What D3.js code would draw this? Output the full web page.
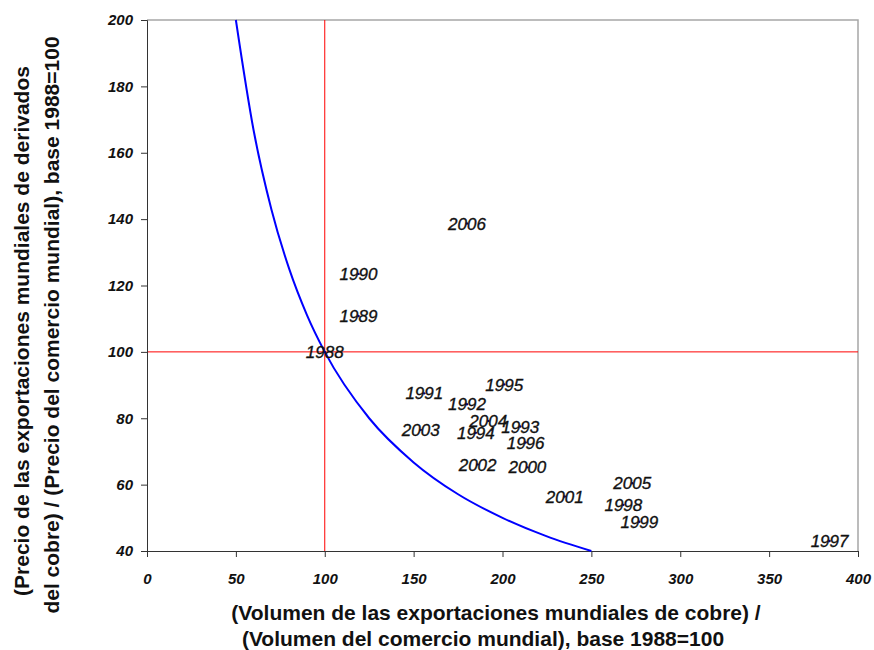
<!DOCTYPE html>
<html>
<head>
<meta charset="utf-8">
<script src="https://cdn.jsdelivr.net/npm/d3@7"></script>
<style>
  body { margin: 0; background: #fff; }
  svg { display: block; font-family: "Liberation Sans", Arial, sans-serif; }
</style>
</head>
<body>
<svg width="874" height="650"></svg>
<script>
// -- data -- //
const years = ["1988","1989","1990","1991","1992","1993","1994","1995","1996","1997",
               "1998","1999","2000","2001","2002","2003","2004","2005","2006"];
const volume = [100, 119, 119, 156, 180, 210, 185, 201, 213, 384,
                268, 277, 214, 235, 186, 154, 192, 273, 180];
const price  = [100, 110.8, 123.5, 87.5, 84.2, 77.5, 75.6, 90.2, 72.7, 43,
                53.9, 48.8, 65.2, 56.4, 66.1, 76.5, 79.2, 60.4, 138.7];
// iso line (volume, price)
const isoX = [50, 60, 70, 80, 90, 100, 125, 150, 175, 200, 225, 250];
const isoY = [200, 166.7, 142.9, 125, 111.1, 100, 80, 66.7, 57.1, 50, 44.4, 40];
const xTicks = [0, 50, 100, 150, 200, 250, 300, 350, 400];
const yTicks = [40, 60, 80, 100, 120, 140, 160, 180, 200];

const points = years.map((y, i) => ({year: y, x: volume[i], y: price[i]}));
const iso = isoX.map((v, i) => [v, isoY[i]]);

const margin = {top: 20, right: 16, bottom: 99, left: 147};
const width = 874, height = 650;

const x = d3.scaleLinear().domain([0, 400]).range([margin.left, width - margin.right]);
const y = d3.scaleLinear().domain([40, 200]).range([height - margin.bottom, margin.top]);

const svg = d3.select("svg");

// plot frame (top + right, light grey)
svg.append("path")
    .attr("fill", "none")
    .attr("stroke", "#a6a6a6")
    .attr("stroke-width", 1.5)
    .attr("d", `M${x(0)},${y(200)}H${x(400)}V${y(40)}`);

// reference lines
svg.append("line")
    .attr("x1", x(100)).attr("x2", x(100))
    .attr("y1", y(200)).attr("y2", y(40))
    .attr("stroke", "#ff0000").attr("stroke-width", 1);
svg.append("line")
    .attr("x1", x(0)).attr("x2", x(400))
    .attr("y1", y(100)).attr("y2", y(100))
    .attr("stroke", "#ff0000").attr("stroke-width", 1);

const tickText = g => g.selectAll("text")
    .attr("font-size", 15).attr("font-weight", "bold").attr("font-style", "italic")
    .attr("fill", "#111").attr("font-family", "'Liberation Sans', Arial, sans-serif");

// axes
const xAxis = g => g
    .attr("transform", `translate(0,${y(40)})`)
    .call(d3.axisBottom(x).tickValues(xTicks).tickSize(6).tickPadding(16))
    .call(g => g.selectAll("path, line").attr("stroke", "#333"))
    .call(tickText);

const yAxis = g => g
    .attr("transform", `translate(${x(0)},0)`)
    .call(d3.axisLeft(y).tickValues(yTicks).tickSize(6).tickPadding(8))
    .call(g => g.selectAll("path, line").attr("stroke", "#333"))
    .call(tickText);

svg.append("g").call(xAxis);
svg.append("g").call(yAxis);

// iso curve
const line = d3.line()
    .x(d => x(d[0]))
    .y(d => y(d[1]))
    .curve(d3.curveMonotoneX);

svg.append("path")
    .datum(iso)
    .attr("fill", "none")
    .attr("stroke", "#0000ff")
    .attr("stroke-width", 2)
    .attr("d", line);

// points + labels
const pts = svg.append("g")
    .selectAll("g")
    .data(points)
    .join("g")
    .attr("transform", d => `translate(${x(d.x)},${y(d.y)})`);

pts.append("circle")
    .attr("r", 1.2)
    .attr("fill", "#000080");

pts.append("text")
    .attr("text-anchor", "middle")
    .attr("dy", "0.36em")
    .attr("font-size", 17)
    .attr("font-style", "italic")
    .attr("fill", "#111")
    .attr("stroke", "#111")
    .attr("stroke-width", 0.35)
    .text(d => d.year);

// axis titles
const xTitle = svg.append("text")
    .attr("text-anchor", "middle")
    .attr("font-size", 21)
    .attr("font-weight", "bold")
    .attr("fill", "#111");
xTitle.append("tspan").attr("x", 496).attr("y", 620)
    .text("(Volumen de las exportaciones mundiales de cobre) /");
xTitle.append("tspan").attr("x", 483).attr("y", 646)
    .text("(Volumen del comercio mundial), base 1988=100");

const yTitle = svg.append("text")
    .attr("text-anchor", "middle")
    .attr("font-size", 21)
    .attr("font-weight", "bold")
    .attr("fill", "#111")
    .attr("transform", "translate(0,325) rotate(-90)");
yTitle.append("tspan").attr("x", -6).attr("y", 29)
    .text("(Precio de las exportaciones mundiales de derivados");
yTitle.append("tspan").attr("x", 0).attr("y", 59)
    .text("del cobre) / (Precio del comercio mundial), base 1988=100");
</script>
</body>
</html>
